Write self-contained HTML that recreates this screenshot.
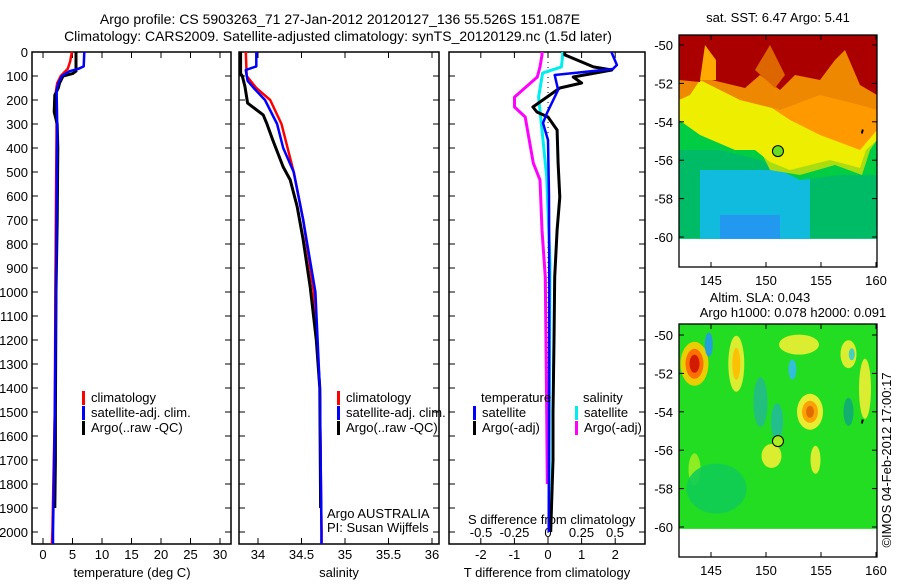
<!DOCTYPE html>
<html><head><meta charset="utf-8"><style>
body{margin:0;background:#fff;width:900px;height:580px;overflow:hidden}
svg text{font-family:"Liberation Sans",sans-serif;fill:#000}
</style></head><body>
<svg id="c" width="900" height="580" xmlns="http://www.w3.org/2000/svg">
<text x="340" y="24" font-size="14" text-anchor="middle">Argo profile: CS 5903263_71 27-Jan-2012 20120127_136 55.526S 151.087E</text>
<text x="338" y="41" font-size="14" text-anchor="middle">Climatology: CARS2009. Satellite-adjusted climatology: synTS_20120129.nc (1.5d later)</text>
<g id="maps"></g>
<g id="plots"></g>
</svg>
<script>
// depth axis
const depthTicks=[0,100,200,300,400,500,600,700,800,900,1000,1100,1200,1300,1400,1500,1600,1700,1800,1900,2000];
// temperature panel
const tTicks=[0,5,10,15,20,25,30];
const tClimD=[0,40,70,100,130,160,200,300,600,1000,1500,2000,2050];
const tClimV=[4.9,4.6,4.2,3.0,2.4,2.2,2.2,2.3,2.2,2.1,2.0,1.6,1.5];
const tSatD=[0,60,70,80,100,130,160,300,1000,1500,1850,2000,2050];
const tSatV=[7.0,6.9,6.0,4.5,3.2,2.6,2.3,2.4,2.2,2.0,1.8,1.7,1.7];
const tArgoD=[0,80,90,100,130,150,180,250,300,400,700,1000,1500,1700,1900];
const tArgoV=[5.6,5.6,5.0,3.4,2.8,2.6,2.0,1.9,2.4,2.5,2.4,2.2,2.1,2.1,2.0];
// salinity panel
const sTicks=[34,34.5,35,35.5,36];
const sClimD=[0,100,150,200,300,400,500,700,900,1000,1400,2000,2050];
const sClimV=[33.86,33.87,33.98,34.14,34.27,34.34,34.41,34.52,34.60,34.64,34.71,34.73,34.73];
const sSatD=[0,60,75,120,150,200,300,400,500,700,1000,1400,2000,2050];
const sSatV=[33.98,33.98,33.86,33.88,33.95,34.08,34.22,34.29,34.41,34.52,34.66,34.71,34.73,34.73];
const sArgoD=[0,90,100,145,213,262,297,367,479,533,645,783,979,1200,1400,1900];
const sArgoV=[33.80,33.80,33.82,33.85,33.88,34.06,34.10,34.17,34.29,34.37,34.45,34.52,34.60,34.67,34.71,34.72];
// difference panel
const dtTicks=[-2,-1,0,1,2];
const dsTicks=[-0.5,-0.25,0,0.25,0.5];
const dtSatD=[0,4,54,71,96,158,254,296,367,600,1000,1500,2000];
const dtSatV=[1.9,1.9,2.05,1.93,0.2,0.3,-0.03,-0.15,0,0.03,0.04,0.03,0.02];
const dtArgoD=[0,12,62,75,104,129,150,229,250,271,325,463,604,742,938,1200,1500,1700,2000];
const dtArgoV=[0.5,0.5,1.35,1.9,0.75,1.0,0.35,-0.45,-0.33,0,0.27,0.3,0.35,0.27,0.2,0.18,0.15,0.15,0.08];
const dsSatD=[0,12,62,88,188,325,521,879,1500,2000];
const dsSatV=[0.11,0.11,0.1,-0.04,-0.07,-0.045,-0.01,0.015,0.01,0.01];
const dsArgoD=[0,12,62,104,188,229,271,463,533,742,938,1500,1800];
const dsArgoV=[-0.045,-0.045,-0.06,-0.08,-0.25,-0.25,-0.17,-0.11,-0.06,-0.045,-0.02,-0.01,-0.005];
// map axes
const lonTicks=[145,150,155,160];
const latTicks=[-50,-52,-54,-56,-58,-60];
const argoLon=151.087, argoLat=-55.526;

const NS='http://www.w3.org/2000/svg';
const svg=document.getElementById('c');
function el(tag,attrs,parent){const e=document.createElementNS(NS,tag);for(const k in attrs)e.setAttribute(k,attrs[k]);(parent||svg).appendChild(e);return e;}
function txt(x,y,s,size,anchor,parent){const t=el('text',{x:x,y:y,'font-size':size,'text-anchor':anchor||'start'},parent);t.textContent=s;return t;}
const Y=d=>52+0.24*d;
const xT=v=>43+5.9*v, xS=v=>258+87*(v-34), xDT=v=>548+33.6*v, xDS=v=>548+134*v;
const plots=document.getElementById('plots');
const panels=[{x0:32,x1:231,name:'temperature-panel'},{x0:239,x1:439,name:'salinity-panel'},{x0:449,x1:645,name:'difference-panel'}];
panels.forEach(p=>{
  const r=el('rect',{x:p.x0,y:52,width:p.x1-p.x0,height:492,fill:'none',stroke:'#000','stroke-width':1.5},plots);
  
  
  depthTicks.forEach(d=>{
    el('line',{x1:p.x0,x2:p.x0+6,y1:Y(d),y2:Y(d),stroke:'#000'},plots);
    el('line',{x1:p.x1,x2:p.x1-6,y1:Y(d),y2:Y(d),stroke:'#000'},plots);
  });
});
depthTicks.forEach(d=>{const t=txt(28,Y(d)+5,String(d),13,'end',plots);
  
  });
function xAxis(ticks,fx,labelY,fmt){ticks.forEach(v=>{const x=fx(v);
  el('line',{x1:x,x2:x,y1:544,y2:538,stroke:'#000'},plots);
  el('line',{x1:x,x2:x,y1:52,y2:58,stroke:'#000'},plots);
  const t=txt(x,labelY,fmt?fmt(v):String(v),13,'middle',plots);
  
  });}
xAxis(tTicks,xT,559);
xAxis(sTicks,xS,559);
xAxis(dtTicks,xDT,559);
dsTicks.forEach(v=>{const t=txt(xDS(v),537,String(v),13,'middle',plots);
  
  });
[['temperature (deg C)',132],['salinity',339],['T difference from climatology',547]].forEach(a=>{
  const t=txt(a[1],577,a[0],13,'middle',plots);
  
  });
const dl=el('line',{x1:548,x2:548,y1:52,y2:544,stroke:'#000','stroke-dasharray':'1,4'},plots);


function series(D,V,fx,color,w,name){
  const pts=D.map((d,i)=>fx(V[i]).toFixed(1)+','+Y(d).toFixed(1)).join(' ');
  const p=el('polyline',{points:pts,fill:'none',stroke:color,'stroke-width':w,'stroke-linejoin':'round'},plots);
  
  
}
series(tClimD,tClimV,xT,'#f00',2.5,'temp-climatology-line');
series(tArgoD,tArgoV,xT,'#000',3,'temp-argo-line');
series(tSatD,tSatV,xT,'#00f',2.5,'temp-satellite-line');
series(sClimD,sClimV,xS,'#f00',2.5,'sal-climatology-line');
series(sArgoD,sArgoV,xS,'#000',3,'sal-argo-line');
series(sSatD,sSatV,xS,'#00f',2.5,'sal-satellite-line');
series(dsArgoD,dsArgoV,xDS,'#f0f',3,'sdiff-argo-line');
series(dsSatD,dsSatV,xDS,'#0ee',3,'sdiff-satellite-line');
series(dtArgoD,dtArgoV,xDT,'#000',3,'tdiff-argo-line');
series(dtSatD,dtSatV,xDT,'#00f',2.5,'tdiff-satellite-line');
function legItem(x,y,color,label,name){
  el('rect',{x:x,y:y-11,width:3,height:14,fill:color},plots);
  const t=txt(x+9,y,label,13,'start',plots);
  
  
}
[[82,'p1'],[337,'p2']].forEach(a=>{
  legItem(a[0],402,'#f00','climatology','legend-climatology');
  legItem(a[0],417,'#00f','satellite-adj. clim.','legend-satellite');
  legItem(a[0],432,'#000','Argo(..raw -QC)','legend-argo');
});
txt(481,402,'temperature',13,'start',plots);
txt(583,402,'salinity',13,'start',plots);
legItem(473,417,'#00f','satellite','legend-t-satellite');
legItem(473,432,'#000','Argo(-adj)','legend-t-argo');
legItem(575,417,'#0ee','satellite','legend-s-satellite');
legItem(575,432,'#f0f','Argo(-adj)','legend-s-argo');
txt(327,518,'Argo AUSTRALIA',13,'start',plots);
txt(327,532,'PI: Susan Wijffels',13,'start',plots);
txt(468,524,'S difference from climatology',13,'start',plots);

// maps
const maps=document.getElementById('maps');
function buildMap(top,latY,name,draw){
  const g=el('g',{},maps);
  
  
  const lx=v=>678+(v-142)*11; const ly=v=>latY+(-50-v)*19.2;
  const cid='clip'+top;
  const cp=el('clipPath',{id:cid},g);
  el('rect',{x:679,y:top,width:198,height:ly(-60.1)-top},cp);
  const inner=el('g',{'clip-path':'url(#'+cid+')'},g);
  draw(inner,lx,ly);
  const bottom=top+(top<100?232:233);
  el('rect',{x:679,y:top,width:198,height:bottom-top,fill:'none',stroke:'#000','stroke-width':1.3},g);
  lonTicks.forEach(v=>{el('line',{x1:lx(v),x2:lx(v),y1:top,y2:top+5,stroke:'#000'},g);
    el('line',{x1:lx(v),x2:lx(v),y1:bottom,y2:bottom-5,stroke:'#000'},g);
    txt(lx(v),bottom+18,String(v),13,'middle',g);});
  latTicks.forEach(v=>{el('line',{x1:679,x2:684,y1:ly(v),y2:ly(v),stroke:'#000'},g);
    el('line',{x1:877,x2:872,y1:ly(v),y2:ly(v),stroke:'#000'},g);
    txt(673,ly(v)+5,String(v),13,'end',g);});
  const dot=el('circle',{cx:lx(argoLon),cy:ly(argoLat),r:5.5,fill:top<100?'#6d2':'#ae2',stroke:'#000','stroke-width':1},g);
  
  
  el('path',{d:`M${lx(158.8)} ${ly(-54.4)} l-1 4`,stroke:'#000','stroke-width':2},g);
}
buildMap(35,45,'sst-map',(g,lx,ly)=>{
  el('rect',{x:679,y:35,width:198,height:210,fill:'#0b6'},g);
  el('rect',{x:700,y:170,width:110,height:70,fill:'#1bd'},g);
  el('rect',{x:720,y:215,width:60,height:25,fill:'#29e'},g);
  el('path',{d:'M679 150 L720 150 L760 160 L800 180 L840 175 L877 175 L877 120 L679 110Z',fill:'#0c4'},g);
  el('path',{d:'M679 120 L720 125 L735 140 L760 150 L770 170 L800 175 L835 165 L862 175 L870 150 L877 140 L877 80 L679 80Z',fill:'#ad1'},g);
  el('path',{d:'M679 120 L700 135 L735 150 L755 150 L770 162 L790 170 L830 160 L860 168 L866 150 L877 140 L877 80 L679 80Z',fill:'#ee0'},g);
  el('path',{d:'M730 80 L760 100 L790 120 L820 135 L860 150 L877 130 L877 80Z',fill:'#f90'},g);
  el('path',{d:'M679 100 L690 95 L700 80 L740 100 L780 110 L820 95 L860 105 L877 110 L877 35 L679 35Z',fill:'#e80'},g);
  el('path',{d:'M679 80 L700 82 L706 60 L712 80 L745 88 L760 75 L780 90 L795 75 L820 80 L835 60 L845 50 L860 85 L877 95 L877 35 L679 35Z',fill:'#a00'},g);
  el('path',{d:'M700 80 L705 45 L716 60 L716 80Z',fill:'#fa0'},g);
  el('path',{d:'M755 70 L770 45 L785 75 L775 88Z',fill:'#d60'},g);
});
buildMap(324,335,'sla-map',(g,lx,ly)=>{
  el('rect',{x:679,y:324,width:198,height:210,fill:'#2d2'},g);
  const blobs=[[143.5,-51.5,14,22,'#fc0'],[143.5,-51.5,9,15,'#f60'],[143.5,-51.5,5,9,'#c10'],[147.3,-51.5,8,28,'#ee3'],[147.3,-51.5,4,16,'#fb0'],
  [154,-54,13,18,'#fe3'],[154,-54,8,11,'#f90'],[154,-54,4,6,'#d60'],[144.8,-50.5,4,12,'#29e'],[152.4,-51.8,4,10,'#3be'],
  [149.5,-53.5,7,25,'#2b8'],[153,-50.5,20,10,'#ee3'],[159,-52.8,6,30,'#ee3'],[157.5,-51,8,14,'#ee3'],[157.8,-51,3,6,'#3cc'],
  [150.5,-56.3,10,12,'#ee3'],[154.5,-56.5,5,14,'#ee3'],[143.5,-57,6,16,'#9e2'],[151,-54.5,6,18,'#2b9'],[157.5,-54,5,14,'#1a7'],
  [145.5,-58,30,25,'#1c5']];
  blobs.forEach(b=>el('ellipse',{cx:lx(b[0]),cy:ly(b[1]),rx:b[2],ry:b[3],fill:b[4],opacity:0.9},g));
});
const t1=txt(778,22,'sat. SST: 6.47 Argo: 5.41',13,'middle',maps);


txt(760,302,'Altim. SLA: 0.043',13,'middle',maps);
txt(793,317,'Argo h1000: 0.078 h2000: 0.091',13,'middle',maps);
const cr=txt(0,0,'©IMOS 04-Feb-2012 17:00:17',13,'middle',maps);
cr.setAttribute('transform','translate(891,460) rotate(-90)');


</script>
</body></html>
